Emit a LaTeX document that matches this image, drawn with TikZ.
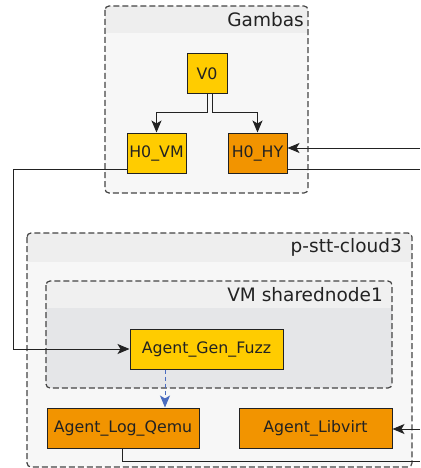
\documentclass[tikz,border=0pt]{standalone}
\usepackage{fontspec}
\setmainfont{DejaVu Sans}
\usetikzlibrary{arrows.meta,calc}
\definecolor{nodeyellow}{HTML}{FFCC00}
\definecolor{nodeorange}{HTML}{F29400}
\definecolor{clbody}{HTML}{F7F7F7}
\definecolor{clhead}{HTML}{EEEEEE}
\definecolor{vmbody}{HTML}{E5E6E8}
\definecolor{vmhead}{HTML}{F0F0F0}
\definecolor{borderc}{HTML}{444444}
\definecolor{inkc}{HTML}{222222}
\definecolor{bluec}{HTML}{4A6CC0}
\tikzset{
  box/.style={draw=inkc, line width=1pt, inner sep=0pt, minimum height=40pt,
    font=\fontsize{15.8}{19}\selectfont, text=inkc},
  ybox/.style={box, fill=nodeyellow},
  obox/.style={box, fill=nodeorange},
  cborder/.style={draw=borderc, line width=1.2pt, dash pattern=on 6pt off 3pt, rounded corners=4pt},
  ctitle/.style={anchor=east, inner sep=0pt, text=inkc, font=\fontsize{18.5}{22}\selectfont},
  tip/.style={-{Stealth[length=12pt,width=10pt,inset=3pt]}},
  edge/.style={draw=inkc, line width=1pt, tip},
  plain/.style={draw=inkc, line width=1pt},
  bedge/.style={draw=bluec, line width=1pt, dash pattern=on 4pt off 3pt, tip}
}
\begin{document}
\begin{tikzpicture}[x=1pt,y=-1pt]
\useasboundingbox (0,0) rectangle (420,468);
% Gambas cluster
\begin{scope}
\clip[rounded corners=4pt] (105,6) rectangle (308,193);
\fill[clbody] (105,6) rectangle (308,193);
\fill[clhead] (105,6) rectangle (308,33);
\end{scope}
\draw[cborder] (105,6) rectangle (308,193);
\node[ctitle] (tG) at (304,20) {Gambas};
% p-stt-cloud3 cluster
\begin{scope}
\clip[rounded corners=4pt] (27,233) rectangle (412,467);
\fill[clbody] (27,233) rectangle (412,467);
\fill[clhead] (27,233) rectangle (412,262);
\end{scope}
\draw[cborder] (27,233) rectangle (412,467);
\node[ctitle] (tC) at (402,247) {p-stt-cloud3};
% VM sharednode1 cluster
\begin{scope}
\clip[rounded corners=4pt] (46,281) rectangle (392,388);
\fill[vmbody] (46,281) rectangle (392,388);
\fill[vmhead] (46,281) rectangle (392,308);
\end{scope}
\draw[cborder] (46,281) rectangle (392,388);
\node[ctitle] (tV) at (383,295) {VM sharednode1};
% nodes
\node[ybox, minimum width=40pt] (V0) at (207,74) {V0};
\node[ybox, minimum width=59pt] (H0VM) at (156.5,153) {H0\_VM};
\node[obox, minimum width=59pt] (H0HY) at (257.5,153) {H0\_HY};
\node[ybox, minimum width=153pt] (AGF) at (206.5,349) {Agent\_Gen\_Fuzz};
\node[obox, minimum width=152pt] (ALQ) at (123,428) {Agent\_Log\_Qemu};
\node[obox, minimum width=153pt] (ALV) at (315.5,428) {Agent\_Libvirt};
% free ends
\coordinate (inHY) at (420,148);
\coordinate (outHY) at (420,169);
\coordinate (inLV) at (420,429);
\coordinate (outLQ) at (420,461);
% connectors
\draw[edge] (V0.south) -- ++(0,18) -| (H0VM.north);
\draw[edge] ($(V0.south)+(5,0)$) -- ++(0,18) -| (H0HY.north);
\draw[edge] (H0VM.west |- 0,169) -- (13,169) |- (AGF.west);
\draw[edge] (inHY) -- (H0HY.east |- inHY);
\draw[plain] (H0HY.east |- outHY) -- (outHY);
\draw[bedge] (AGF.south -| 165,0) -- (ALQ.north -| 165,0);
\draw[edge] (inLV) -- (ALV.east |- inLV);
\draw[plain] (ALQ.south -| 122,0) |- (outLQ);
\end{tikzpicture}
\end{document}
